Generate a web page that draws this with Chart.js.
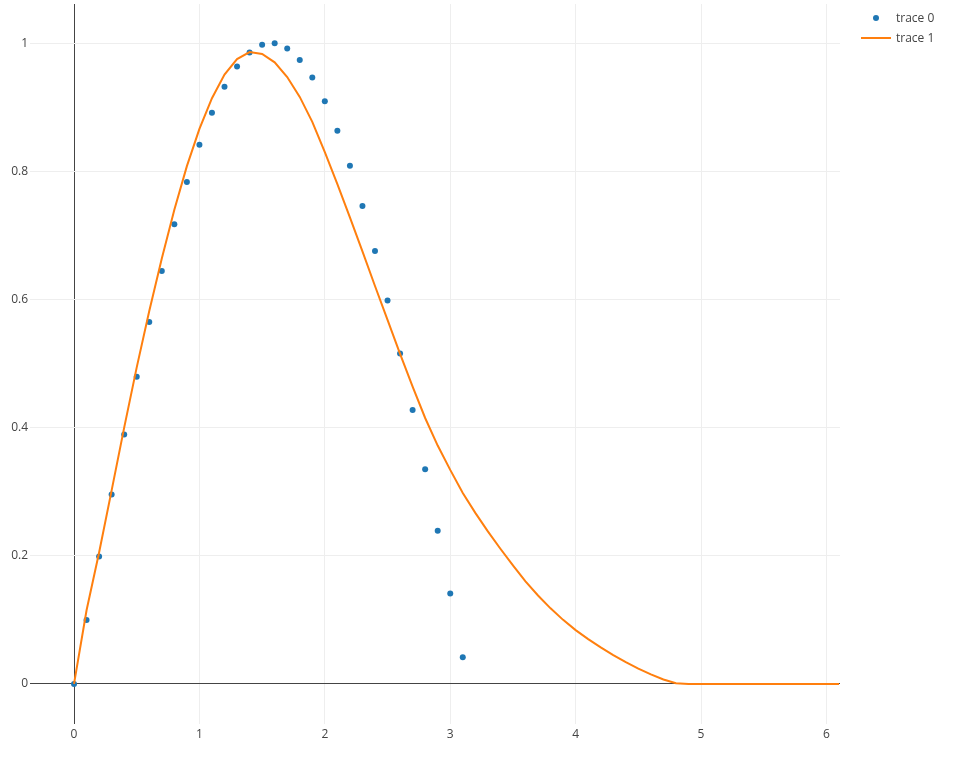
<!DOCTYPE html>
<html>
<head>
<meta charset="utf-8">
<script src="https://cdn.jsdelivr.net/npm/chart.js@4.4.1/dist/chart.umd.min.js"></script>
<style>
  html, body { margin: 0; padding: 0; background: #fff; }
  #wrap { position: relative; width: 957px; height: 772px; }
</style>
</head>
<body>
<div id="wrap"><canvas id="chart"></canvas></div>
<script>
// trace 0: markers
var trace0X = [0, 0.1, 0.2, 0.3, 0.4, 0.5, 0.6, 0.7, 0.8, 0.9, 1.0, 1.1, 1.2, 1.3, 1.4, 1.5,
               1.6, 1.7, 1.8, 1.9, 2.0, 2.1, 2.2, 2.3, 2.4, 2.5, 2.6, 2.7, 2.8, 2.9, 3.0, 3.1];
var trace0Y = [0, 0.0998, 0.1987, 0.2955, 0.3894, 0.4794, 0.5646, 0.6442, 0.7174, 0.7833, 0.8415,
               0.8912, 0.932, 0.9636, 0.9854, 0.9975, 0.9996, 0.9917, 0.9738, 0.9463, 0.9093,
               0.8632, 0.8085, 0.7457, 0.6755, 0.5985, 0.5155, 0.4274, 0.335, 0.2392, 0.1411, 0.0416];

// trace 1: line
var trace1X = [0, 0.1, 0.2, 0.3, 0.4, 0.5, 0.6, 0.7, 0.8, 0.9, 1.0, 1.1, 1.2, 1.3, 1.4, 1.5,
               1.6, 1.7, 1.8, 1.9, 2.0, 2.1, 2.2, 2.3, 2.4, 2.5, 2.6, 2.7, 2.8, 2.9, 3.0, 3.1,
               3.2, 3.3, 3.4, 3.5, 3.6, 3.7, 3.8, 3.9, 4.0, 4.1, 4.2, 4.3, 4.4, 4.5, 4.6, 4.7,
               4.8, 4.9, 5.0, 5.1, 5.2, 5.3, 5.4, 5.5, 5.6, 5.7, 5.8, 5.9, 6.0, 6.1];
var trace1Y = [0, 0.115, 0.205, 0.302, 0.4, 0.494, 0.582, 0.664, 0.74, 0.808, 0.866, 0.914,
               0.951, 0.975, 0.986, 0.983, 0.97, 0.947, 0.916, 0.877, 0.83, 0.78, 0.728,
               0.675, 0.621, 0.568, 0.515, 0.464, 0.415, 0.372, 0.334, 0.298, 0.267, 0.238,
               0.211, 0.185, 0.16, 0.138, 0.118, 0.1, 0.084, 0.07, 0.057, 0.045, 0.034,
               0.024, 0.015, 0.007, 0.001, 0, 0, 0, 0, 0, 0, 0, 0, 0, 0, 0, 0, 0];

var xTicks = [0, 1, 2, 3, 4, 5, 6];
var yTicks = [0, 0.2, 0.4, 0.6, 0.8, 1];
var legendNames = ["trace 0", "trace 1"];

var blue = "#1f77b4", orange = "#ff7f0e";
var font = { family: "'Open Sans', 'DejaVu Sans', sans-serif", size: 12 };

function pts(xs, ys) {
    return xs.map(function (x, i) { return { x: x, y: ys[i] }; });
}

// plotly-like legend at top right
var legendPlugin = {
    id: "plotLegend",
    afterDraw: function (chart) {
        var ctx = chart.ctx;
        ctx.save();
        ctx.fillStyle = blue;
        ctx.beginPath();
        ctx.arc(876, 18, 3, 0, Math.PI * 2);
        ctx.fill();
        ctx.strokeStyle = orange;
        ctx.lineWidth = 2;
        ctx.beginPath();
        ctx.moveTo(861, 38);
        ctx.lineTo(891, 38);
        ctx.stroke();
        ctx.fillStyle = "#444";
        ctx.font = "12px " + font.family;
        ctx.textBaseline = "middle";
        ctx.fillText(legendNames[0], 896, 19);
        ctx.fillText(legendNames[1], 896, 39);
        ctx.restore();
    }
};

new Chart(document.getElementById("chart").getContext("2d"), {
    type: "scatter",
    data: {
        datasets: [
            {
                label: legendNames[0],
                data: pts(trace0X, trace0Y),
                showLine: false,
                pointRadius: 3,
                pointBorderWidth: 0,
                pointBackgroundColor: blue,
                backgroundColor: blue,
                order: 1
            },
            {
                label: legendNames[1],
                data: pts(trace1X, trace1Y),
                showLine: true,
                borderColor: orange,
                borderWidth: 2,
                pointRadius: 0,
                tension: 0,
                order: 0
            }
        ]
    },
    options: {
        responsive: true,
        maintainAspectRatio: false,
        animation: false,
        layout: { padding: { left: 0, top: 4, right: 117, bottom: 0 } },
        plugins: { legend: { display: false }, tooltip: { enabled: false } },
        scales: {
            x: {
                type: "linear",
                min: -0.351,
                max: 6.108,
                afterBuildTicks: function (s) { s.ticks = xTicks.map(function (v) { return { value: v }; }); },
                afterFit: function (s) { s.height = 48; s.paddingLeft = 0; s.paddingRight = 0; },
                border: { display: false },
                grid: {
                    drawTicks: false,
                    color: function (c) { return c.tick && c.tick.value === 0 ? "#444" : "#eee"; },
                    lineWidth: 1
                },
                ticks: { color: "#444", font: font, padding: 3, maxRotation: 0 }
            },
            y: {
                type: "linear",
                min: -0.0625,
                max: 1.061,
                afterBuildTicks: function (s) { s.ticks = yTicks.map(function (v) { return { value: v }; }); },
                afterFit: function (s) { s.width = 30; s.paddingTop = 0; s.paddingBottom = 0; },
                border: { display: false },
                grid: {
                    drawTicks: false,
                    color: function (c) { return c.tick && c.tick.value === 0 ? "#444" : "#eee"; },
                    lineWidth: 1
                },
                ticks: {
                    color: "#444", font: font, padding: 2,
                    callback: function (v) { return String(Math.round(v * 10) / 10); }
                }
            }
        }
    },
    plugins: [legendPlugin]
});
</script>
</body>
</html>
